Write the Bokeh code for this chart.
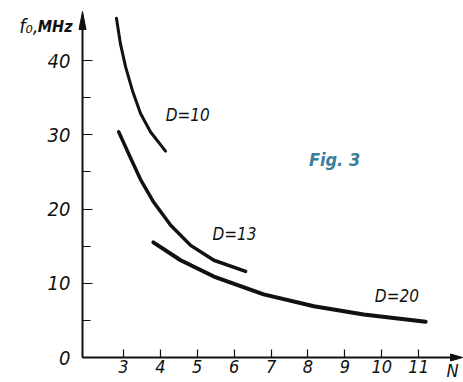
from bokeh.plotting import figure
from bokeh.models import Range1d, FixedTicker, Label
from bokeh.core.properties import value
from bokeh.embed import file_html
from bokeh.resources import INLINE

# ---- data ----
x_ticks = [3, 4, 5, 6, 7, 8, 9, 10, 11]
y_ticks = [0, 10, 20, 30, 40]
y_minor = [5, 15, 25, 35]

d10_n = [2.81, 2.92, 3.06, 3.24, 3.46, 3.73, 4.14]
d10_f = [45.7, 42.2, 39.1, 36.0, 32.9, 30.4, 27.8]

d13_n = [2.87, 3.19, 3.46, 3.82, 4.28, 4.82, 5.45, 6.31]
d13_f = [30.4, 26.9, 24.0, 20.9, 17.8, 15.1, 13.1, 11.6]

d20_n = [3.81, 4.55, 5.45, 6.80, 8.16, 9.51, 11.19]
d20_f = [15.5, 13.1, 10.9, 8.5, 6.9, 5.8, 4.8]

curve_labels = ["D=10", "D=13", "D=20"]
label_n = [4.74, 6.01, 10.41]
label_f = [32.7, 16.6, 8.3]

# ---- layout ----
W, H = 463, 382
AX_X, AX_Y = 1.89, 0.0          # where the axes cross
X_TIP, Y_TIP = 12.19, 46.6      # arrow tips
PX_X = 36.9                     # pixels per unit of N
PX_Y = 7.425                    # pixels per MHz
AXIS_LEFT_PX, AXIS_BOTTOM_PX = 82, 357
XL = AX_X - AXIS_LEFT_PX / PX_X
XR = XL + W / PX_X
YT = AX_Y + AXIS_BOTTOM_PX / PX_Y
YB = YT - H / PX_Y

FONT = "DejaVu Sans Condensed"
INK = "#111111"

p = figure(width=W, height=H, output_backend="svg", toolbar_location=None,
           x_range=Range1d(XL, XR), y_range=Range1d(YB, YT),
           min_border=0, min_border_left=0, min_border_right=0,
           min_border_top=0, min_border_bottom=0)
p.outline_line_color = None
p.xgrid.visible = False
p.ygrid.visible = False
p.background_fill_color = "white"
p.border_fill_color = "white"

for ax in (p.xaxis[0], p.yaxis[0]):
    ax.axis_line_width = 2
    ax.axis_line_color = INK
    ax.major_tick_out = 0
    ax.minor_tick_out = 0
    ax.major_tick_line_color = INK
    ax.major_tick_line_width = 1.2
    ax.minor_tick_line_color = INK
    ax.minor_tick_line_width = 1.2
    ax.major_label_text_font = FONT
    ax.major_label_text_font_style = "italic"
    ax.major_label_text_color = INK

p.xaxis.fixed_location = AX_Y
p.xaxis.bounds = (AX_X, X_TIP - 0.2)
p.xaxis.ticker = FixedTicker(ticks=x_ticks)
p.xaxis.major_tick_in = 8
p.xaxis.minor_tick_in = 0
p.xaxis.major_label_standoff = 2
p.xaxis.major_label_text_font_size = "18px"

p.yaxis.fixed_location = AX_X
p.yaxis.bounds = (AX_Y, Y_TIP - 1.5)
p.yaxis.ticker = FixedTicker(ticks=y_ticks, minor_ticks=y_minor)
p.yaxis.major_tick_in = 10
p.yaxis.minor_tick_in = 8
p.yaxis.major_label_standoff = 12
p.yaxis.major_label_text_font_size = "20px"

# curves
p.line(d10_n, d10_f, line_width=3, line_color=INK, line_cap="round", line_join="round")
p.line(d13_n, d13_f, line_width=3.5, line_color=INK, line_cap="round", line_join="round")
p.line(d20_n, d20_f, line_width=4, line_color=INK, line_cap="round", line_join="round")

p.text(x=label_n, y=label_f, text=curve_labels, text_font=value(FONT),
       text_font_style="italic", text_font_size="17px", text_align="center",
       text_baseline="middle", text_color=INK)

# arrow heads at the ends of the axes (sizes in pixels converted to data units)
hy_len, hy_half = 18 / PX_Y, 3.5 / PX_X
p.patch([AX_X, AX_X - hy_half, AX_X + hy_half], [Y_TIP, Y_TIP - hy_len, Y_TIP - hy_len],
        fill_color=INK, line_color=INK, line_width=1)
hx_len, hx_half = 12 / PX_X, 3.5 / PX_Y
p.patch([X_TIP, X_TIP - hx_len, X_TIP - hx_len], [AX_Y, AX_Y + hx_half, AX_Y - hx_half],
        fill_color=INK, line_color=INK, line_width=1)

# axis titles
p.add_layout(Label(x=AX_X - 44 / PX_X, y=44.6, text="f₀,", text_font=FONT,
                   text_font_style="italic", text_font_size="20px", text_align="right",
                   text_baseline="middle", text_color=INK))
p.add_layout(Label(x=AX_X - 10 / PX_X, y=44.6, text="MHz", text_font=FONT,
                   text_font_style="bold italic", text_font_size="16px", text_align="right",
                   text_baseline="middle", text_color=INK))
p.add_layout(Label(x=11.92, y=AX_Y - 2 / PX_Y, text="N", text_font=FONT,
                   text_font_style="italic", text_font_size="18px", text_align="center",
                   text_baseline="top", text_color=INK))

# figure caption
p.add_layout(Label(x=8.72, y=26.7, text="Fig. 3", text_font=FONT, text_font_style="bold italic",
                   text_font_size="18px", text_align="center", text_baseline="middle",
                   text_color="#3a7d9c"))

open("out.html", "w").write(file_html(p, INLINE))
